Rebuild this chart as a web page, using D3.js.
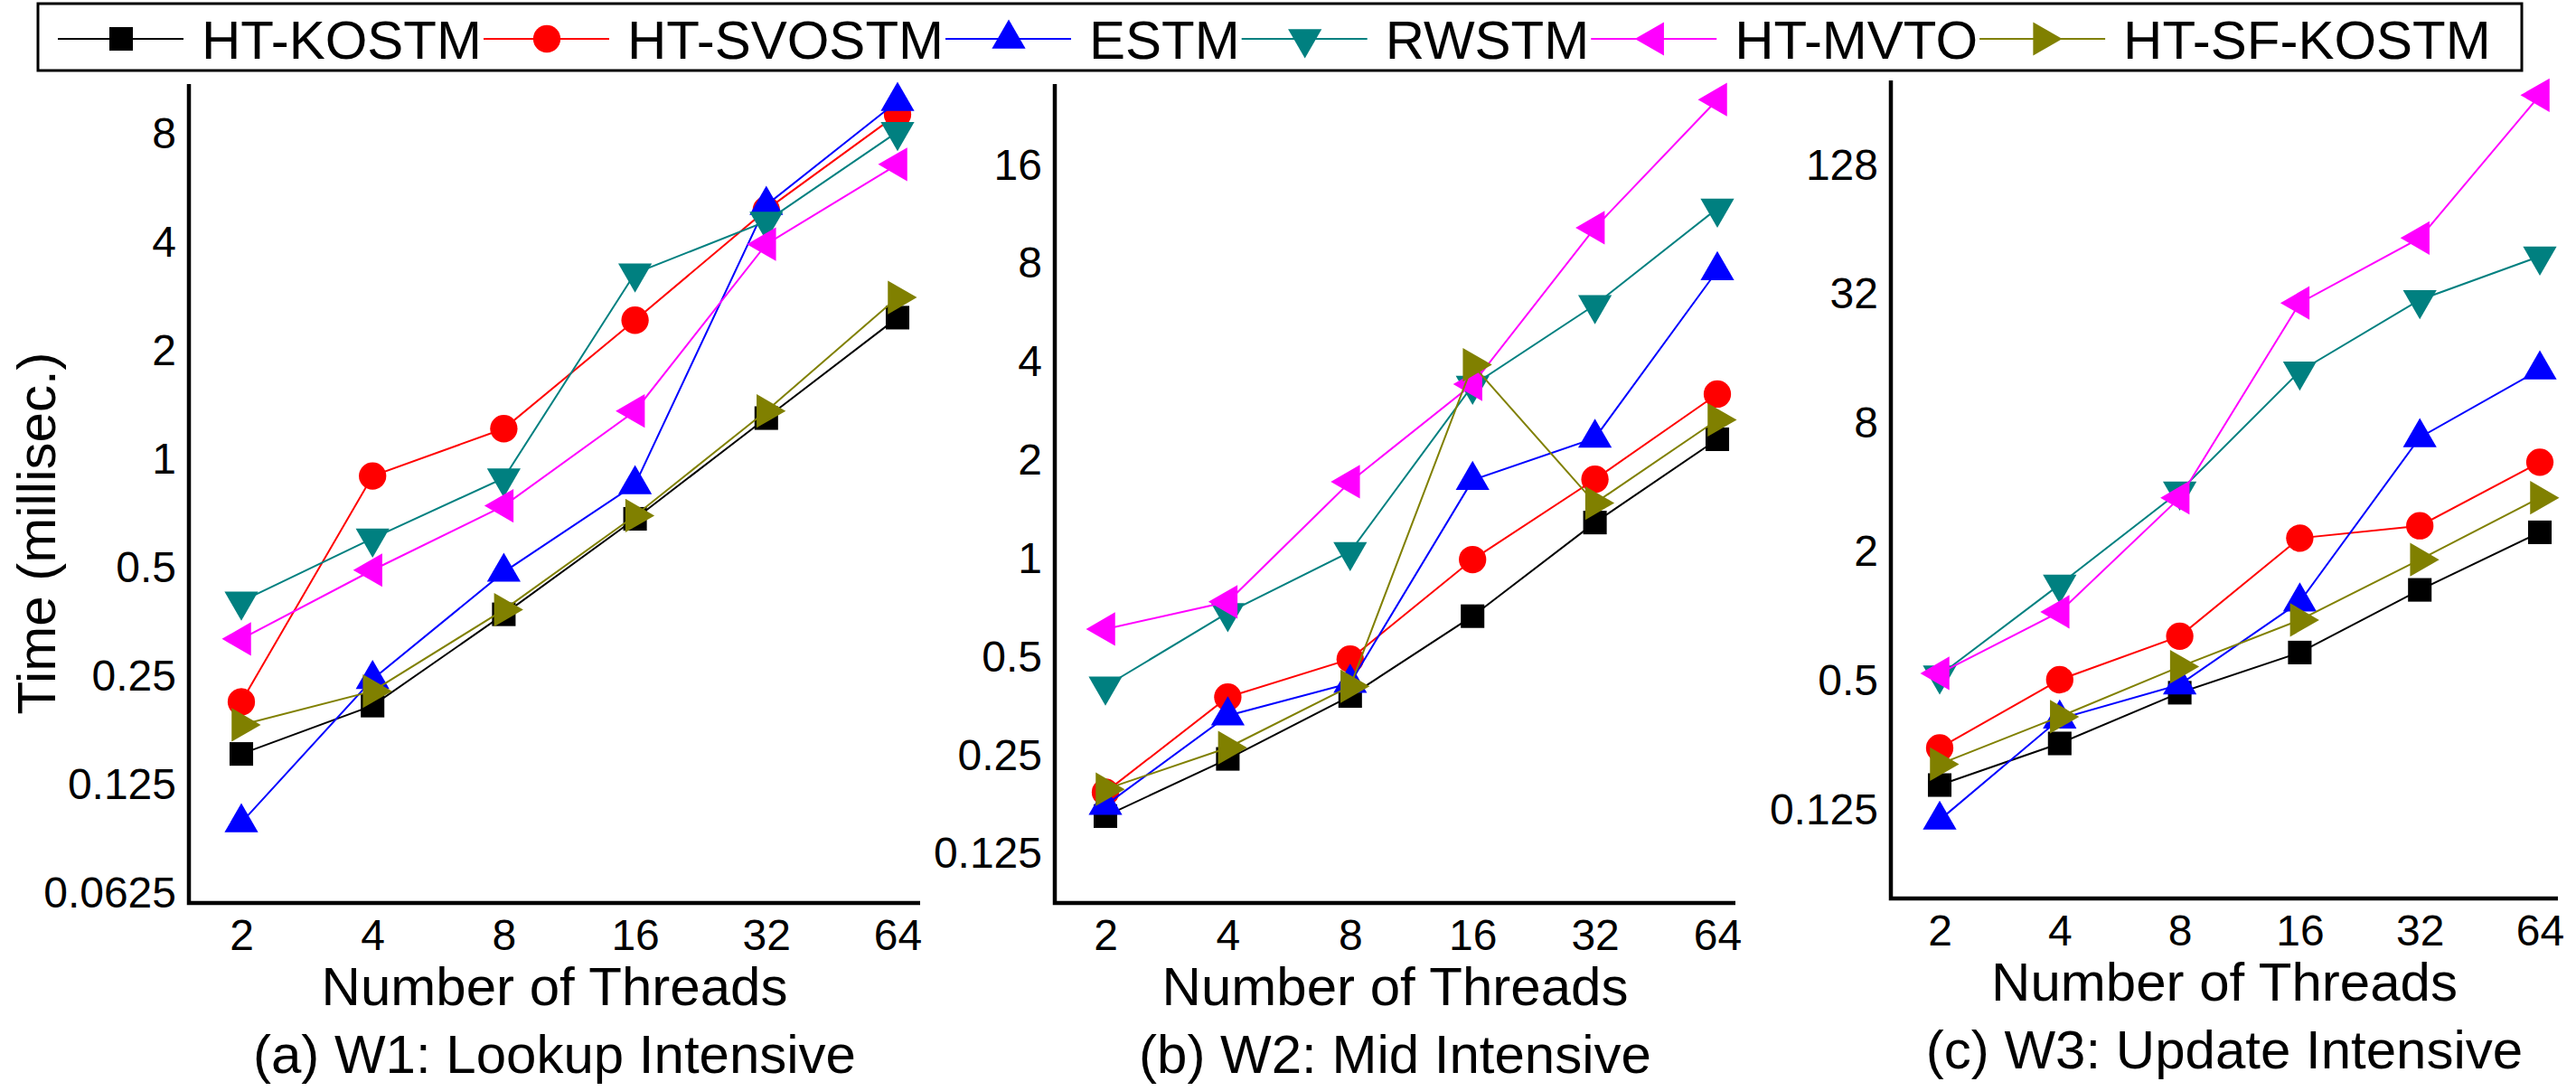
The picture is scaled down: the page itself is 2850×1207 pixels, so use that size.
<!DOCTYPE html>
<html>
<head>
<meta charset="utf-8">
<script src="https://cdn.jsdelivr.net/npm/d3@7"></script>
<style>
  body { margin: 0; background: #fff; }
  text { font-family: "Liberation Sans", Arial, Helvetica, sans-serif; fill: #000; }
</style>
</head>
<body>
<svg id="chart"></svg>
<script>
// ---- data (time in millisec.) ----
const threads = ["2", "4", "8", "16", "32", "64"];
const seriesNames = ["HT-KOSTM", "HT-SVOSTM", "ESTM", "RWSTM", "HT-MVTO", "HT-SF-KOSTM"];
const captions = ["(a) W1: Lookup Intensive", "(b) W2: Mid Intensive", "(c) W3: Update Intensive"];

const w1Ticks = [0.0625, 0.125, 0.25, 0.5, 1, 2, 4, 8];
const w2Ticks = [0.125, 0.25, 0.5, 1, 2, 4, 8, 16];
const w3Ticks = [0.125, 0.5, 2, 8, 32, 128];

// W1: lookup intensive
const w1HtKostm   = [0.152, 0.207, 0.371, 0.683, 1.30, 2.47];
const w1HtSvostm  = [0.212, 0.898, 1.215, 2.43, 4.92, 9.06];
const w1Estm      = [0.098, 0.245, 0.486, 0.85, 5.07, 9.85];
const w1Rwstm     = [0.403, 0.603, 0.886, 3.28, 4.57, 8.1];
const w1HtMvto    = [0.317, 0.492, 0.742, 1.36, 3.95, 6.58];
const w1HtSfKostm = [0.183, 0.227, 0.382, 0.697, 1.36, 2.81];

// W2: mid intensive
const w2HtKostm   = [0.163, 0.244, 0.380, 0.667, 1.29, 2.32];
const w2HtSvostm  = [0.193, 0.377, 0.493, 0.994, 1.75, 3.19];
const w2Estm      = [0.176, 0.331, 0.416, 1.74, 2.34, 7.62];
const w2Rwstm     = [0.407, 0.683, 1.05, 3.39, 5.98, 11.8];
const w2HtMvto    = [0.609, 0.738, 1.72, 3.42, 10.3, 25.4];
const w2HtSfKostm = [0.197, 0.264, 0.407, 3.92, 1.48, 2.66];

// W3: update intensive
const w3HtKostm   = [0.163, 0.255, 0.440, 0.678, 1.33, 2.47];
const w3HtSvostm  = [0.243, 0.506, 0.808, 2.32, 2.65, 5.25];
const w3Estm      = [0.112, 0.332, 0.48, 1.17, 6.85, 14.2];
const w3Rwstm     = [0.531, 1.41, 3.84, 13.97, 30.1, 48.1];
const w3HtMvto    = [0.542, 1.05, 3.58, 29.1, 58.5, 272];
const w3HtSfKostm = [0.204, 0.340, 0.582, 0.962, 1.84, 3.58];

// ---- styling ----
const colors = ["#000000", "#ff0000", "#0000ff", "#008080", "#ff00ff", "#808000"];
// symbol type + rotation for each series
const markers = [
  { type: d3.symbolSquare, size: 680, rot: 0 },
  { type: d3.symbolCircle, size: 720, rot: 0 },
  { type: d3.symbolTriangle, size: 600, rot: 0 },
  { type: d3.symbolTriangle, size: 600, rot: 180 },
  { type: d3.symbolTriangle, size: 600, rot: -90 },
  { type: d3.symbolTriangle, size: 600, rot: 90 }
];

const width = 2850, height = 1207;

// panel geometry (pixels) and log2 extents of the y axis
const panels = [
  { left: 209, right: 1018, first: 267, last: 993, bottom: 999, top: 93, lo: -4.092, hi: 3.458,
    ticks: w1Ticks, series: [w1HtKostm, w1HtSvostm, w1Estm, w1Rwstm, w1HtMvto, w1HtSfKostm] },
  { left: 1167, right: 1920, first: 1223, last: 1900, bottom: 999, top: 93, lo: -3.5, hi: 4.825,
    ticks: w2Ticks, series: [w2HtKostm, w2HtSvostm, w2Estm, w2Rwstm, w2HtMvto, w2HtSfKostm] },
  { left: 2092, right: 2830, first: 2146, last: 2810, bottom: 994, top: 89, lo: -4.377, hi: 8.316,
    ticks: w3Ticks, series: [w3HtKostm, w3HtSvostm, w3Estm, w3Rwstm, w3HtMvto, w3HtSfKostm] }
];

const svg = d3.select("#chart")
    .attr("width", width)
    .attr("height", height)
    .style("background", "#fff");

function markerPath(m) {
  return d3.symbol().type(m.type).size(m.size)();
}

panels.forEach((p, pi) => {
  const g = svg.append("g");

  const x = d3.scalePoint().domain(threads).range([p.first, p.last]);
  const y = d3.scaleLog().base(2)
      .domain([Math.pow(2, p.lo), Math.pow(2, p.hi)])
      .range([p.bottom, p.top]);

  // y tick labels
  const yAxis = g.append("g")
      .attr("transform", `translate(${p.left},0)`)
      .call(d3.axisLeft(y).tickValues(p.ticks).tickSize(0).tickPadding(14)
            .tickFormat(d => String(d)));
  yAxis.select(".domain").remove();
  yAxis.selectAll("text")
      .attr("font-size", 48)
      .attr("font-family", "Liberation Sans, Arial, sans-serif");

  // x tick labels
  const xAxis = g.append("g")
      .attr("transform", `translate(0,${p.bottom})`)
      .call(d3.axisBottom(x).tickSize(0).tickPadding(18));
  xAxis.select(".domain").remove();
  xAxis.selectAll("text")
      .attr("font-size", 48)
      .attr("font-family", "Liberation Sans, Arial, sans-serif");

  // frame: left and bottom axis lines
  g.append("path")
      .attr("d", `M${p.left},${p.top}V${p.bottom}H${p.right}`)
      .attr("fill", "none")
      .attr("stroke", "#000")
      .attr("stroke-width", 4.5);

  const line = d3.line().x((d, i) => x(threads[i])).y(d => y(d));

  p.series.forEach((vals, si) => {
    const sg = g.append("g");
    sg.append("path")
        .datum(vals)
        .attr("d", line)
        .attr("fill", "none")
        .attr("stroke", colors[si])
        .attr("stroke-width", 2);

    sg.selectAll("path.pt")
        .data(vals)
        .enter()
        .append("path")
        .attr("class", "pt")
        .attr("d", markerPath(markers[si]))
        .attr("transform", (d, i) => `translate(${x(threads[i])},${y(d)}) rotate(${markers[si].rot})`)
        .attr("fill", colors[si]);
  });

  const cx = (p.left + p.right) / 2;
  g.append("text")
      .attr("x", cx)
      .attr("y", p.bottom + 113)
      .attr("text-anchor", "middle")
      .attr("font-size", 60)
      .text("Number of Threads");

  g.append("text")
      .attr("x", cx)
      .attr("y", p.bottom + 188)
      .attr("text-anchor", "middle")
      .attr("font-size", 60)
      .text(captions[pi]);

  if (pi === 0) {
    g.append("text")
        .attr("transform", `translate(40,590) rotate(-90)`)
        .attr("text-anchor", "middle")
        .attr("dominant-baseline", "central")
        .attr("font-size", 60)
        .text("Time (millisec.)");
  }
});

// ---- legend ----
const legend = svg.append("g");
legend.append("rect")
    .attr("x", 42)
    .attr("y", 4)
    .attr("width", 2748)
    .attr("height", 74)
    .attr("fill", "#fff")
    .attr("stroke", "#000")
    .attr("stroke-width", 3);

let cursor = 64;
const legendY = 43;
seriesNames.forEach((name, i) => {
  const item = legend.append("g");
  item.append("line")
      .attr("x1", cursor).attr("x2", cursor + 139)
      .attr("y1", legendY).attr("y2", legendY)
      .attr("stroke", colors[i])
      .attr("stroke-width", 2);
  item.append("path")
      .attr("d", markerPath(markers[i]))
      .attr("transform", `translate(${cursor + 70},${legendY}) rotate(${markers[i].rot})`)
      .attr("fill", colors[i]);
  const t = item.append("text")
      .attr("x", cursor + 159)
      .attr("y", legendY + 22)
      .attr("font-size", 60)
      .text(name);
  cursor = cursor + 159 + t.node().getComputedTextLength() + 2;
});
</script>
</body>
</html>
